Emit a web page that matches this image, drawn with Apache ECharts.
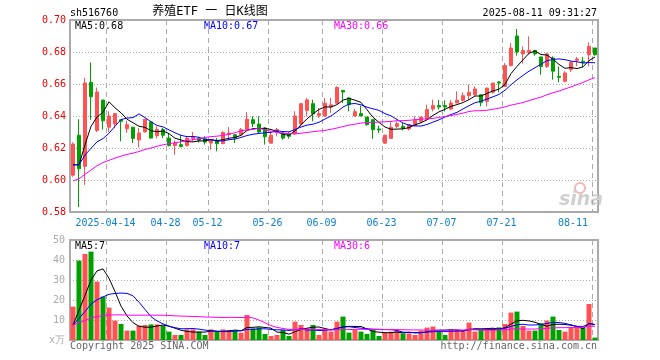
<!DOCTYPE html>
<html><head><meta charset="utf-8">
<script src="https://cdn.jsdelivr.net/npm/echarts@6/dist/echarts.min.js"></script>
<style>html,body{margin:0;padding:0;background:#fff}#c{width:660px;height:360px}</style>
</head><body><div id="c"></div>
<script>
const dates = ['2025-04-03','2025-04-07','2025-04-08','2025-04-09','2025-04-10','2025-04-11',
'2025-04-14','2025-04-15','2025-04-16','2025-04-17','2025-04-18',
'2025-04-21','2025-04-22','2025-04-23','2025-04-24','2025-04-25',
'2025-04-28','2025-04-29','2025-04-30','2025-05-06','2025-05-07','2025-05-08','2025-05-09',
'2025-05-12','2025-05-13','2025-05-14','2025-05-15','2025-05-16',
'2025-05-19','2025-05-20','2025-05-21','2025-05-22','2025-05-23',
'2025-05-26','2025-05-27','2025-05-28','2025-05-29','2025-05-30',
'2025-06-03','2025-06-04','2025-06-05','2025-06-06',
'2025-06-09','2025-06-10','2025-06-11','2025-06-12','2025-06-13',
'2025-06-16','2025-06-17','2025-06-18','2025-06-19','2025-06-20',
'2025-06-23','2025-06-24','2025-06-25','2025-06-26','2025-06-27',
'2025-06-30','2025-07-01','2025-07-02','2025-07-03','2025-07-04',
'2025-07-07','2025-07-08','2025-07-09','2025-07-10','2025-07-11',
'2025-07-14','2025-07-15','2025-07-16','2025-07-17','2025-07-18',
'2025-07-21','2025-07-22','2025-07-23','2025-07-24','2025-07-25',
'2025-07-28','2025-07-29','2025-07-30','2025-07-31','2025-08-01',
'2025-08-04','2025-08-05','2025-08-06','2025-08-07','2025-08-08',
'2025-08-11'];

const opens = [0.603,0.628,0.6085,0.661,0.631,0.650,
0.633,0.635,0.6377,0.632,0.633,
0.625,0.630,0.6363,0.6277,0.6315,
0.6262,0.6215,0.6221,0.6215,0.626,0.626,0.6258,
0.6231,0.6248,0.6227,0.6285,0.6283,
0.6283,0.6315,0.6377,0.635,0.6325,
0.623,0.630,0.6294,0.6288,0.629,
0.635,0.6435,0.6477,0.6404,
0.640,0.6456,0.648,0.656,0.6513,
0.640,0.6415,0.6394,0.6377,0.6319,
0.623,0.626,0.6335,0.6335,0.6319,
0.634,0.6367,0.638,0.6444,0.6465,
0.6465,0.6444,0.6481,0.6498,0.6527,
0.6533,0.6533,0.6492,0.6548,0.6613,
0.6585,0.6715,0.690,0.6788,0.6798,
0.681,0.6769,0.671,0.6763,0.6648,
0.6617,0.669,0.6748,0.6742,0.6783,
0.6825];
const closes = [0.6225,0.607,0.6606,0.652,0.655,0.637,
0.640,0.6415,0.6367,0.6346,0.626,
0.6294,0.638,0.6262,0.6315,0.628,
0.6215,0.6231,0.621,0.6262,0.627,0.6248,0.6237,
0.6248,0.6227,0.6298,0.6294,0.6262,
0.6315,0.638,0.6352,0.630,0.627,
0.628,0.6315,0.6262,0.6273,0.640,
0.6477,0.650,0.6413,0.6415,
0.648,0.647,0.6579,0.655,0.647,
0.6427,0.640,0.6346,0.6315,0.6313,
0.628,0.633,0.6352,0.6325,0.6346,
0.6373,0.6394,0.644,0.6465,0.6456,
0.6456,0.6481,0.6498,0.6527,0.6548,
0.6569,0.6485,0.6575,0.6606,0.6606,
0.6715,0.6825,0.680,0.681,0.681,
0.6788,0.671,0.6788,0.668,0.6642,
0.6669,0.6735,0.6756,0.6735,0.6835,
0.6783];
const lows = [0.602,0.583,0.597,0.6377,0.630,0.6315,
0.630,0.6325,0.6242,0.6294,0.6231,
0.6204,0.6298,0.626,0.626,0.6262,
0.621,0.6158,0.6204,0.621,0.6242,0.6235,0.6221,
0.619,0.6179,0.6227,0.6248,0.6231,
0.6283,0.6315,0.6331,0.6294,0.6221,
0.623,0.6273,0.6252,0.6258,0.6283,
0.6335,0.6398,0.6367,0.6388,
0.6394,0.6419,0.6477,0.6481,0.6429,
0.6396,0.640,0.634,0.6258,0.6294,
0.6227,0.626,0.6325,0.631,0.631,
0.6335,0.6356,0.6377,0.6429,0.644,
0.6429,0.6435,0.6481,0.6492,0.6502,
0.6527,0.646,0.646,0.654,0.6548,
0.6585,0.671,0.6777,0.6727,0.6783,
0.6777,0.6658,0.670,0.6627,0.661,
0.661,0.6675,0.671,0.6706,0.671,
0.6777];
const highs = [0.6235,0.638,0.6638,0.6735,0.6577,0.650,
0.6429,0.6415,0.6377,0.6371,0.6331,
0.6325,0.6381,0.6363,0.6335,0.6325,
0.6294,0.6248,0.6283,0.6268,0.630,0.627,0.6273,
0.6252,0.6262,0.6304,0.6331,0.6283,
0.6325,0.6425,0.6398,0.6398,0.6331,
0.630,0.6325,0.6304,0.6298,0.6429,
0.648,0.6513,0.6502,0.645,
0.6513,0.6513,0.6585,0.6563,0.6519,
0.6444,0.6465,0.6394,0.6377,0.634,
0.6283,0.636,0.6367,0.6356,0.6346,
0.6398,0.6394,0.6471,0.6502,0.650,
0.6498,0.650,0.6554,0.6548,0.6596,
0.6585,0.6533,0.6575,0.6606,0.6617,
0.6731,0.6856,0.6944,0.6835,0.6898,
0.681,0.6769,0.6794,0.6773,0.671,
0.668,0.6742,0.6769,0.6769,0.686,
0.6825];
// volume in 万手
const volumes = [16.7,39.7,43,44.2,29.2,21.7,16.2,9.7,8,4.7,
4.7,7.2,7.5,7.8,7.8,7.2,4.2,2.5,2.5,5.3,
5.3,4.2,2.5,5.3,4.5,5.3,5,4.7,3.7,12.5,
5.8,6.3,3,2,2.5,5,2,9.2,7.5,5.8,
7.5,2.5,5.3,4.2,9.2,11.7,3.7,5,4.2,3,
5.3,2,3.7,4.2,4.7,3.3,3.3,2.5,4.7,6.2,
6.7,4.7,2.5,5.3,5.3,4.7,8.7,4.2,5,5.8,
5.8,6.3,8,13.7,14.2,7,4.7,4.7,8.3,9.7,
11.7,5,4.2,6.3,6.7,6.3,18,1.2];
// estimated sessions before the visible window (needed for the moving averages)
const priceHistory = [0.572,0.574,0.575,0.574,0.576,0.598,0.600,0.601,0.600,0.602,
0.600,0.599,0.598,0.600,0.601,0.599,0.605,0.604,0.606,0.607,
0.607,0.600,0.610,0.615,0.6155,0.607,0.598,0.5945,0.6255];
const volumeHistory = [6,8,7,9,7.5,6.5,8,7,8.5,7,6,8,7.5,9,7,7.5,8,6.5,7.5,8.5,
7,8,7.5,7.5,7.5,3.0,5.5,6.0,6.3];

const labelDates = ['2025-04-14','2025-04-28','2025-05-12','2025-05-26','2025-06-09','2025-06-23','2025-07-07','2025-07-21','2025-08-11'];
const priceTicks = [0.58,0.60,0.62,0.64,0.66,0.68,0.70];
const volumeTicks = [0,10,20,30,40,50];
const priceLegend = ['MA5:0.68','MA10:0.67','MA30:0.66'];
const volumeLegend = ['MA5:7','MA10:7','MA30:6'];
const titleText = '养殖ETF 一 日K线图';
const codeText = 'sh516760';
const timeText = '2025-08-11 09:31:27';

function movingAvg(hist, vals, n) {
  const all = hist.concat(vals);
  return vals.map((_, i) => {
    const end = hist.length + i;
    let s = 0;
    for (let k = end - n + 1; k <= end; k++) s += all[k];
    return +(s / n).toFixed(4);
  });
}

const RED = '#ff5252', GREEN = '#00a000';
const MONO = '"DejaVu Sans Mono","Liberation Mono",monospace';
const labelIdx = new Set(labelDates.map(d => dates.indexOf(d)));
const firstLabel = dates.indexOf(labelDates[0]);
const candleData = dates.map((_, i) => [opens[i], closes[i], lows[i], highs[i]]);
const volData = volumes.map((v, i) => ({ value: v, itemStyle: { color: closes[i] >= opens[i] ? RED : GREEN } }));
const maColors = ['#000000', '#0000ff', '#ff00ff'];
const periods = [5, 10, 30];

const splitV = { show: true, interval: (i) => labelIdx.has(i), lineStyle: { color: '#aaa', type: [5, 4], width: 1 } };
const splitH = { show: true, lineStyle: { color: '#aaa', type: [1, 2], width: 1 } };

const series = [
  { type: 'candlestick', xAxisIndex: 0, yAxisIndex: 0, data: candleData, barWidth: 4,
    itemStyle: { color: RED, color0: GREEN, borderColor: RED, borderColor0: GREEN, borderWidth: 1 } },
  { type: 'bar', xAxisIndex: 1, yAxisIndex: 1, data: volData, barWidth: 5 }
];
periods.forEach((p, k) => {
  series.push({ type: 'line', xAxisIndex: 0, yAxisIndex: 0, data: movingAvg(priceHistory, closes, p),
    symbol: 'none', lineStyle: { color: maColors[k], width: 1 }, z: 5 });
  series.push({ type: 'line', xAxisIndex: 1, yAxisIndex: 1, data: movingAvg(volumeHistory, volumes, p),
    symbol: 'none', lineStyle: { color: maColors[k], width: 1 }, z: 5 });
});

const legendX = [75, 204, 334];
const graphics = [
  { type: 'text', x: 70, y: 13, style: { text: codeText, font: '10px ' + MONO, fill: '#000', verticalAlign: 'middle', textVerticalAlign: 'middle' } },
  { type: 'text', x: 210, y: 12, style: { text: titleText, font: '12px ' + MONO + ',"Noto Sans CJK SC"', fill: '#000', align: 'center', textAlign: 'center', verticalAlign: 'middle', textVerticalAlign: 'middle' } },
  { type: 'text', x: 597, y: 13, style: { text: timeText, font: '10px ' + MONO, fill: '#000', align: 'right', textAlign: 'right', verticalAlign: 'middle', textVerticalAlign: 'middle' } },
  { type: 'text', x: 70, y: 346, style: { text: 'Copyright 2025 SINA.COM', font: '10px ' + MONO, fill: '#666', verticalAlign: 'middle', textVerticalAlign: 'middle' } },
  { type: 'text', x: 597, y: 346, style: { text: 'http://finance.sina.com.cn', font: '10px ' + MONO, fill: '#666', align: 'right', textAlign: 'right', verticalAlign: 'middle', textVerticalAlign: 'middle' } },
  { type: 'circle', shape: { cx: 580, cy: 188, r: 5 }, style: { fill: 'none', stroke: '#f2b8b8', lineWidth: 2 } },
  { type: 'text', x: 581, y: 200, style: { text: 'sina', font: 'italic bold 19px "DejaVu Sans"', fill: '#d0d0d0', align: 'center', textAlign: 'center', verticalAlign: 'middle', textVerticalAlign: 'middle' } }
];
priceLegend.forEach((t, k) => graphics.push({ type: 'text', x: legendX[k], y: 26, style: { text: t, font: '10px ' + MONO, fill: maColors[k], verticalAlign: 'middle', textVerticalAlign: 'middle' } }));
volumeLegend.forEach((t, k) => graphics.push({ type: 'text', x: legendX[k], y: 246, style: { text: t, font: '10px ' + MONO, fill: maColors[k], verticalAlign: 'middle', textVerticalAlign: 'middle' } }));

const chart = echarts.init(document.getElementById('c'));
chart.setOption({
  animation: false,
  backgroundColor: '#fff',
  grid: [
    { left: 70, top: 20, width: 528, height: 192, show: true, borderColor: '#aaa', borderWidth: 2 },
    { left: 70, top: 240, width: 528, height: 100, show: true, borderColor: '#aaa', borderWidth: 2 }
  ],
  xAxis: [
    { type: 'category', gridIndex: 0, data: dates, boundaryGap: true,
      axisLine: { show: false }, axisTick: { show: false },
      axisLabel: { interval: (i) => labelIdx.has(i), formatter: (v, i) => (i === firstLabel ? v : v.slice(5)),
        color: '#1080d0', fontFamily: MONO, fontSize: 10, margin: 6, padding: [0, 7, 0, 0], alignMaxLabel: 'right' },
      splitLine: splitV },
    { type: 'category', gridIndex: 1, data: dates, boundaryGap: true,
      axisLine: { show: false }, axisTick: { show: false }, axisLabel: { show: false }, splitLine: splitV }
  ],
  yAxis: [
    { type: 'value', gridIndex: 0, min: priceTicks[0], max: priceTicks[priceTicks.length - 1], interval: 0.02,
      axisLine: { show: false }, axisTick: { show: false },
      axisLabel: { color: '#ee0000', fontFamily: MONO, fontSize: 10, margin: 4, formatter: v => v.toFixed(2) },
      splitLine: splitH },
    { type: 'value', gridIndex: 1, min: volumeTicks[0], max: volumeTicks[volumeTicks.length - 1], interval: 10,
      axisLine: { show: false }, axisTick: { show: false },
      axisLabel: { color: '#aaa', fontFamily: MONO, fontSize: 10, margin: 5, formatter: v => (v === 0 ? 'x万' : String(v)) },
      splitLine: splitH }
  ],
  series: series,
  graphic: { elements: graphics }
});
</script></body></html>
